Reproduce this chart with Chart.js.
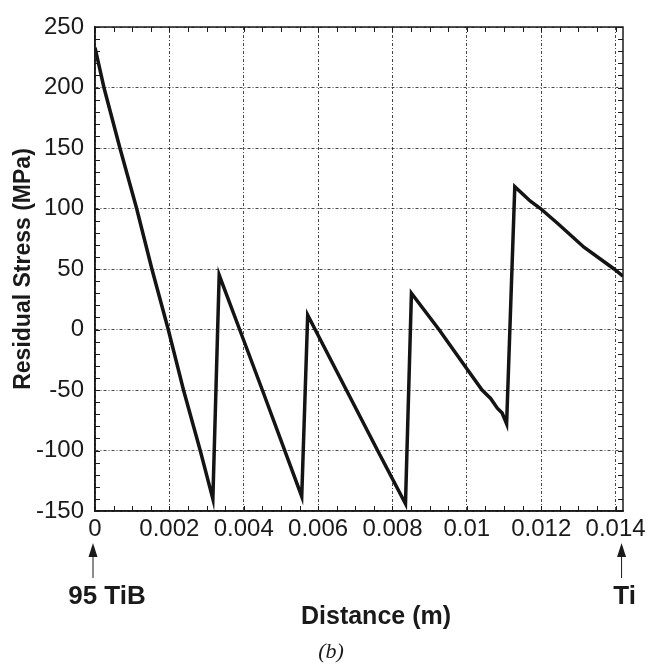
<!DOCTYPE html>
<html>
<head>
<meta charset="utf-8">
<script src="https://cdn.jsdelivr.net/npm/chart.js@4"></script>
<style>
  body { margin: 0; background: #fff; }
  #wrap { width: 651px; height: 664px; }
</style>
</head>
<body>
<div id="wrap"><canvas id="chart" width="651" height="664"></canvas></div>
<script>
// distance (m) and residual stress (MPa)
const distance = [0, 0.00024, 0.00067, 0.00112, 0.00153, 0.00197, 0.00238, 0.00283, 0.00317,
  0.00334, 0.00389, 0.0045, 0.00556,
  0.00572, 0.00592, 0.00676, 0.0076, 0.00835,
  0.00851, 0.00925, 0.00999, 0.01041, 0.01064, 0.01082, 0.01095, 0.01107,
  0.01129, 0.01171, 0.01198, 0.01243, 0.01315, 0.01396, 0.0142];
const stress = [233, 200, 150, 100, 50, 0, -50, -100, -140,
  45, 0, -50, -138,
  12, 0, -50, -100, -144,
  30, 0, -32, -50, -57, -65, -69, -78,
  118, 106, 100, 88, 68, 50, 44];

const xTicks = [0, 0.002, 0.004, 0.006, 0.008, 0.01, 0.012, 0.014];
const xTickLabels = ['0', '0.002', '0.004', '0.006', '0.008', '0.01', '0.012', '0.014'];
const yTicks = [-150, -100, -50, 0, 50, 100, 150, 200, 250];

const FONT = "'Liberation Sans', Arial, sans-serif";
Chart.defaults.font.family = FONT;
Chart.defaults.color = '#1a1a1a';

const gridDash = [3, 2, 1, 2];

// frame, inward minor ticks and the notes under the x axis
const frameAndNotes = {
  id: 'frameAndNotes',
  afterDraw(chart) {
    const ctx = chart.ctx;
    const a = chart.chartArea;
    const xs = chart.scales.x;
    const ys = chart.scales.y;
    ctx.save();
    ctx.strokeStyle = '#1a1a1a';
    ctx.lineWidth = 1.5;
    ctx.strokeRect(a.left, a.top, a.right - a.left, a.bottom - a.top);

    ctx.lineWidth = 1;
    ctx.beginPath();
    for (let k = -15; k <= 25; k++) {
      const py = Math.round(ys.getPixelForValue(k * 10)) + 0.5;
      ctx.moveTo(a.left, py); ctx.lineTo(a.left + 5, py);
      ctx.moveTo(a.right, py); ctx.lineTo(a.right - 5, py);
    }
    for (let k = 0; k <= 28; k++) {
      const px = Math.round(xs.getPixelForValue(k * 0.0005)) + 0.5;
      ctx.moveTo(px, a.bottom); ctx.lineTo(px, a.bottom - 5);
      ctx.moveTo(px, a.top); ctx.lineTo(px, a.top + 5);
    }
    ctx.stroke();

    // arrows pointing at the two ends of the specimen
    const arrow = (x) => {
      ctx.beginPath();
      ctx.lineWidth = 1;
      ctx.moveTo(x, 552); ctx.lineTo(x, 578);
      ctx.stroke();
      ctx.beginPath();
      ctx.moveTo(x, 543); ctx.lineTo(x - 4.5, 557); ctx.lineTo(x + 4.5, 557);
      ctx.closePath();
      ctx.fill();
    };
    ctx.fillStyle = '#1a1a1a';
    const x0 = xs.getPixelForValue(0) - 2;
    const x1 = xs.getPixelForValue(0.014) + 6;
    arrow(x0);
    arrow(x1);

    ctx.textAlign = 'center';
    ctx.textBaseline = 'middle';
    ctx.font = 'bold 26px ' + FONT;
    ctx.fillText('95 TiB', x0 + 14, 597);
    ctx.fillText('Ti', x1 + 3, 597);
    ctx.font = 'bold 25px ' + FONT;
    ctx.fillText('Distance (m)', 376, 617);
    ctx.font = "italic 22px 'Liberation Serif', 'Times New Roman', serif";
    ctx.fillText('(b)', 331, 652);
    ctx.restore();
  }
};

const ctx = document.getElementById('chart').getContext('2d');
const myChart = new Chart(ctx, {
  type: 'line',
  data: {
    datasets: [{
      label: 'Residual stress',
      data: distance.map((d, i) => ({ x: d, y: stress[i] })),
      borderColor: '#141414',
      backgroundColor: '#141414',
      borderWidth: 3.5,
      pointRadius: 0,
      tension: 0,
      fill: false
    }]
  },
  options: {
    responsive: false,
    animation: false,
    layout: { padding: { top: 27, right: 28, bottom: 113, left: 0 } },
    plugins: {
      legend: { display: false },
      tooltip: { enabled: false }
    },
    scales: {
      x: {
        type: 'linear',
        min: 0,
        max: 0.0142,
        afterBuildTicks: (scale) => { scale.ticks = xTicks.map(v => ({ value: v })); },
        afterFit: (scale) => { scale.height = 40; },
        ticks: {
          padding: 4,
          maxRotation: 0,
          font: { size: 24 },
          callback: (v, i) => xTickLabels[i]
        },
        grid: { color: 'rgba(40, 40, 40, 0.85)', lineWidth: 1, drawTicks: false },
        border: { color: '#1a1a1a', width: 1.5, dash: gridDash }
      },
      y: {
        min: -150,
        max: 250,
        afterBuildTicks: (scale) => { scale.ticks = yTicks.map(v => ({ value: v })); },
        afterFit: (scale) => { scale.width = 95; },
        ticks: {
          padding: 11,
          font: { size: 24 }
        },
        title: {
          display: true,
          text: 'Residual Stress (MPa)',
          font: { size: 23, weight: 'bold' },
          padding: { top: 10, bottom: 0 }
        },
        grid: { color: 'rgba(40, 40, 40, 0.85)', lineWidth: 1, drawTicks: false },
        border: { color: '#1a1a1a', width: 1.5, dash: gridDash }
      }
    }
  },
  plugins: [frameAndNotes]
});
</script>
</body>
</html>
